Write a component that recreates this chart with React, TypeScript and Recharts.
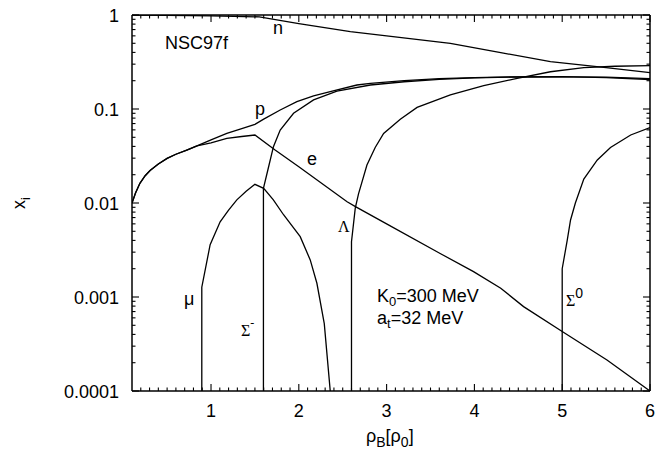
import { LineChart, Line, XAxis, YAxis } from 'recharts'

// particle fractions x_i vs baryon density (rho_B / rho_0)
const neutron = [
  { x: 0.1, y: 0.995 }, { x: 0.5, y: 0.99 }, { x: 1.0, y: 0.98 }, { x: 1.55, y: 0.955 },
  { x: 2.0, y: 0.81 }, { x: 2.587, y: 0.664 }, { x: 3.0, y: 0.6 }, { x: 3.726, y: 0.5 },
  { x: 4.3, y: 0.398 }, { x: 4.866, y: 0.319 }, { x: 5.5, y: 0.275 }, { x: 6.0, y: 0.244 },
]

const proton = [
  { x: 0.1, y: 0.01 }, { x: 0.14, y: 0.0128 }, { x: 0.19, y: 0.0162 }, { x: 0.25, y: 0.0195 },
  { x: 0.306, y: 0.0222 }, { x: 0.4, y: 0.026 }, { x: 0.5, y: 0.0298 }, { x: 0.6, y: 0.033 },
  { x: 0.724, y: 0.0366 }, { x: 0.84, y: 0.0405 }, { x: 1.0, y: 0.047 }, { x: 1.18, y: 0.0551 },
  { x: 1.35, y: 0.062 }, { x: 1.5, y: 0.0687 }, { x: 1.6, y: 0.078 }, { x: 1.788, y: 0.0977 },
  { x: 1.978, y: 0.12 }, { x: 2.168, y: 0.138 }, { x: 2.358, y: 0.153 }, { x: 2.662, y: 0.18 },
  { x: 2.815, y: 0.187 }, { x: 3.2, y: 0.2 }, { x: 3.6, y: 0.21 }, { x: 4.0, y: 0.216 },
  { x: 4.5, y: 0.22 }, { x: 5.0, y: 0.221 }, { x: 5.5, y: 0.216 }, { x: 6.0, y: 0.206 },
]

const electron = [
  { x: 0.1, y: 0.01 }, { x: 0.14, y: 0.0128 }, { x: 0.19, y: 0.0162 }, { x: 0.25, y: 0.0195 },
  { x: 0.306, y: 0.0222 }, { x: 0.4, y: 0.026 }, { x: 0.5, y: 0.0298 }, { x: 0.6, y: 0.033 },
  { x: 0.724, y: 0.0366 }, { x: 0.84, y: 0.0405 }, { x: 1.0, y: 0.0435 }, { x: 1.18, y: 0.0487 },
  { x: 1.35, y: 0.051 }, { x: 1.5, y: 0.0529 }, { x: 1.73, y: 0.0366 }, { x: 2.0, y: 0.0243 },
  { x: 2.55, y: 0.0103 }, { x: 2.65, y: 0.0091 }, { x: 3.0, y: 0.006 }, { x: 3.61, y: 0.0029 },
  { x: 3.99, y: 0.00186 }, { x: 4.3, y: 0.00124 }, { x: 4.56, y: 0.00079 }, { x: 5.0, y: 0.00043 },
  { x: 5.51, y: 0.000214 }, { x: 6.0, y: 0.0001 },
]

const muon = [
  { x: 0.895, y: 0.0001 }, { x: 0.895, y: 0.00127 }, { x: 0.99, y: 0.0036 }, { x: 1.104, y: 0.0063 },
  { x: 1.2, y: 0.0084 }, { x: 1.294, y: 0.0108 }, { x: 1.4, y: 0.0133 }, { x: 1.5, y: 0.0158 },
  { x: 1.6, y: 0.0143 }, { x: 1.71, y: 0.0108 }, { x: 1.826, y: 0.0075 }, { x: 2.016, y: 0.00438 },
  { x: 2.13, y: 0.00248 }, { x: 2.206, y: 0.0014 }, { x: 2.29, y: 0.00052 }, { x: 2.358, y: 0.0001 },
]

const sigmaMinus = [
  { x: 1.597, y: 0.0001 }, { x: 1.597, y: 0.0143 }, { x: 1.65, y: 0.023 }, { x: 1.711, y: 0.0397 },
  { x: 1.788, y: 0.0598 }, { x: 1.94, y: 0.09 }, { x: 2.168, y: 0.125 }, { x: 2.434, y: 0.155 },
  { x: 2.815, y: 0.18 }, { x: 3.2, y: 0.195 }, { x: 3.6, y: 0.207 }, { x: 4.0, y: 0.214 },
  { x: 4.5, y: 0.219 }, { x: 5.0, y: 0.22 }, { x: 5.5, y: 0.218 }, { x: 6.0, y: 0.21 },
]

const lambda = [
  { x: 2.6, y: 0.0001 }, { x: 2.6, y: 0.00387 }, { x: 2.643, y: 0.0088 }, { x: 2.68, y: 0.0125 },
  { x: 2.776, y: 0.0254 }, { x: 2.87, y: 0.039 }, { x: 2.966, y: 0.055 }, { x: 3.156, y: 0.078 },
  { x: 3.347, y: 0.104 }, { x: 3.726, y: 0.141 }, { x: 4.106, y: 0.177 }, { x: 4.487, y: 0.212 },
  { x: 4.866, y: 0.249 }, { x: 5.246, y: 0.275 }, { x: 5.6, y: 0.285 }, { x: 6.0, y: 0.289 },
]

const sigmaZero = [
  { x: 5.0, y: 0.0001 }, { x: 5.0, y: 0.002 }, { x: 5.057, y: 0.004 }, { x: 5.095, y: 0.0066 },
  { x: 5.15, y: 0.01 }, { x: 5.246, y: 0.018 }, { x: 5.4, y: 0.0287 }, { x: 5.55, y: 0.039 },
  { x: 5.78, y: 0.0529 }, { x: 6.0, y: 0.0633 },
]

const series = [neutron, proton, electron, muon, sigmaMinus, lambda, sigmaZero]

const xMajor = [1, 2, 3, 4, 5, 6]
const xMinor = Array.from({ length: 58 }, (_, i) => Math.round((0.2 + i * 0.1) * 10) / 10)
  .filter(v => !xMajor.includes(v))
const xTicks = [...xMinor, ...xMajor]

const yMajor = [0.0001, 0.001, 0.01, 0.1, 1]
const yLabels = ['0.0001', '0.001', '0.01', '0.1', '1']
const yMinor = yMajor.slice(0, 4).flatMap(d => [2, 3, 4, 5, 6, 7, 8, 9].map(k => Number((k * d).toPrecision(2))))
const yTicks = [...yMinor, ...yMajor]

const font = '"Liberation Sans", Arial, Helvetica, sans-serif'
const serif = '"Liberation Serif", "Times New Roman", serif'
const fs = 18

const majorIdx = (v: number, majors: number[]) =>
  majors.findIndex(m => Math.abs(m - v) < m * 1e-6)

// inward ticks on all four sides, gnuplot style
const tickStroke = { stroke: '#000', strokeWidth: 1.1 }
const MAJ = 7
const MIN = 3.5

const BottomTick = ({ x, y, payload }: any) => {
  const i = majorIdx(payload.value, xMajor)
  return (
    <g>
      <path d={`M${x},${y}v${-(i >= 0 ? MAJ : MIN)}`} {...tickStroke} />
      {i >= 0 && (
        <text x={x} y={y + 26} textAnchor="middle" fontFamily={font} fontSize={fs} fill="#000">
          {xMajor[i]}
        </text>
      )}
    </g>
  )
}

const TopTick = ({ x, y, payload }: any) => {
  const i = majorIdx(payload.value, xMajor)
  return <path d={`M${x},${y}v${i >= 0 ? MAJ : MIN}`} {...tickStroke} />
}

const LeftTick = ({ x, y, payload }: any) => {
  const i = majorIdx(payload.value, yMajor)
  return (
    <g>
      <path d={`M${x},${y}h${i >= 0 ? MAJ : MIN}`} {...tickStroke} />
      {i >= 0 && (
        <text x={x - 13} y={y + 6.5} textAnchor="end" fontFamily={font} fontSize={fs} fill="#000">
          {yLabels[i]}
        </text>
      )}
    </g>
  )
}

const RightTick = ({ x, y, payload }: any) => {
  const i = majorIdx(payload.value, yMajor)
  return <path d={`M${x},${y}h${-(i >= 0 ? MAJ : MIN)}`} {...tickStroke} />
}

const frame = { stroke: '#000', strokeWidth: 1.5 }

export default function App() {
  return (
    <div style={{ position: 'absolute', left: 0, top: 0, width: 663, height: 451, background: '#fff' }}>
      <LineChart width={663} height={451} margin={{ top: 5, right: 3, bottom: 30, left: 72 }}>
        <XAxis xAxisId="b" type="number" dataKey="x" domain={[0.1, 6]} allowDataOverflow
          ticks={xTicks} interval={0} tick={BottomTick} tickLine={false} tickSize={0} tickMargin={0}
          height={30} axisLine={frame} />
        <XAxis xAxisId="t" orientation="top" type="number" dataKey="x" domain={[0.1, 6]} allowDataOverflow
          ticks={xTicks} interval={0} tick={TopTick} tickLine={false} tickSize={0} tickMargin={0}
          height={10} axisLine={frame} />
        <YAxis yAxisId="l" type="number" scale="log" domain={[0.0001, 1]} allowDataOverflow
          ticks={yTicks} interval={0} tick={LeftTick} tickLine={false} tickSize={0} tickMargin={0}
          width={60} axisLine={frame} />
        <YAxis yAxisId="r" orientation="right" type="number" scale="log" domain={[0.0001, 1]} allowDataOverflow
          ticks={yTicks} interval={0} tick={RightTick} tickLine={false} tickSize={0} tickMargin={0}
          width={10} axisLine={frame} />
        {series.map((d, i) => (
          <Line key={i} data={d} xAxisId="b" yAxisId="l" dataKey="y" type="linear"
            stroke="#000" strokeWidth={1.3} dot={false} isAnimationActive={false} />
        ))}
      </LineChart>
      <svg width={663} height={451} style={{ position: 'absolute', left: 0, top: 0, pointerEvents: 'none' }}
        fontFamily={font} fontSize={fs} fill="#000">
        <text x={165} y={49}>NSC97f</text>
        <text x={273} y={34}>n</text>
        <text x={255} y={115}>p</text>
        <text x={307} y={165}>e</text>
        <text x={184} y={305}>μ</text>
        <text x={241} y={336} fontFamily={serif} fontSize={16}>Σ<tspan dy={-9} fontSize={12}>-</tspan></text>
        <text x={338} y={232} fontFamily={serif} fontSize={16}>Λ</text>
        <text x={566} y={306} fontFamily={serif} fontSize={16}>Σ<tspan dy={-8} fontFamily={font} fontSize={14}>0</tspan></text>
        <text x={377} y={302}>K<tspan dy={4} fontSize={13}>0</tspan><tspan dy={-4}>=300 MeV</tspan></text>
        <text x={377} y={324}>a<tspan dy={4} fontSize={13}>t</tspan><tspan dy={-4}>=32 MeV</tspan></text>
        <text x={366} y={442}>ρ<tspan dy={5} fontSize={14}>B</tspan><tspan dy={-5}>[ρ</tspan><tspan dy={5} fontSize={14}>0</tspan><tspan dy={-5}>]</tspan></text>
        <text x={22} y={206} transform="rotate(-90 22 203)" textAnchor="middle">x<tspan dy={5} fontSize={13}>i</tspan></text>
      </svg>
    </div>
  )
}
